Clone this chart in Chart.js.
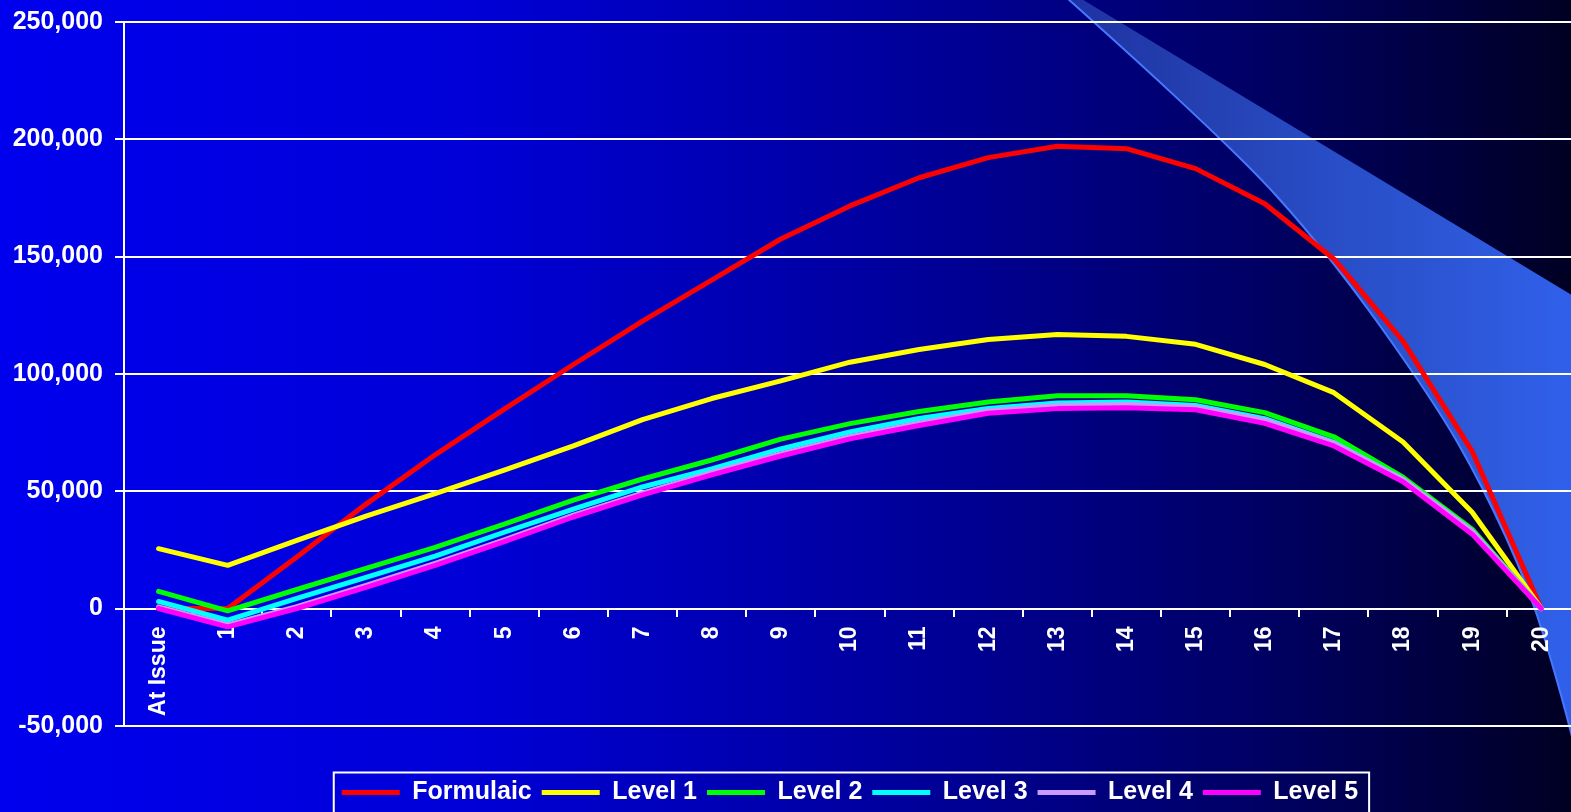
<!DOCTYPE html>
<html>
<head>
<meta charset="utf-8">
<script src="https://cdn.jsdelivr.net/npm/chart.js@4.4.1/dist/chart.umd.min.js"></script>
<style>
  html, body { margin: 0; padding: 0; overflow: hidden; background: #000; }
</style>
</head>
<body>
<canvas id="myChart" width="1580" height="812"></canvas>
<script>
// data
const labels = ['At Issue', '1', '2', '3', '4', '5', '6', '7', '8', '9', '10',
  '11', '12', '13', '14', '15', '16', '17', '18', '19', '20'];

const formulaic = [0, 0, 22000, 44500, 65500, 85000, 104000, 122500, 140000, 157500, 171600,
  183600, 192200, 197000, 196000, 187500, 172500, 149000, 114000, 67000, 0];
const level1 = [25500, 18400, 29000, 39400, 49000, 59000, 69300, 80500, 89500, 97000, 105000,
  110400, 114700, 116800, 116000, 112600, 104000, 92000, 71000, 41000, 0];
const level2 = [7300, -1000, 8100, 17100, 26100, 36000, 46200, 55200, 63300, 72200, 78800,
  84000, 88000, 90700, 90700, 89000, 83500, 73200, 56000, 33800, 0];
const level3 = [3000, -5000, 4300, 13300, 22300, 32500, 42400, 51800, 59500, 68000, 75300,
  81000, 85300, 87600, 88000, 86500, 80900, 70800, 55000, 33000, 0];
const level4 = [700, -7000, 800, 9800, 19200, 29300, 39800, 49200, 57900, 65900, 73200,
  79000, 84200, 86500, 87000, 85800, 80300, 70600, 55000, 33000, 0];
const level5 = [0, -7800, 0, 9000, 18400, 28500, 39000, 48400, 57000, 65000, 72300,
  78000, 83200, 85200, 85600, 84700, 78900, 69300, 54000, 31700, 0];

const seriesNames = ['Formulaic', 'Level 1', 'Level 2', 'Level 3', 'Level 4', 'Level 5'];
const seriesData = [formulaic, level1, level2, level3, level4, level5];
const seriesColors = ['#ff0000', '#ffff00', '#00ff00', '#00ffff', '#cc99ff', '#ff00ff'];

const FONT = '"Liberation Sans", Arial, sans-serif';

//Background gradient and the blue swoosh behind the grid
const backdrop = {
  id: 'backdrop',
  beforeDraw(chart) {
    const ctx = chart.ctx;
    ctx.save();
    const bg = ctx.createLinearGradient(0, 0, 1571, 0);
    bg.addColorStop(0, 'rgb(0,0,238)');
    bg.addColorStop(0.3, 'rgb(0,0,215)');
    bg.addColorStop(0.6, 'rgb(0,0,150)');
    bg.addColorStop(0.82, 'rgb(0,0,95)');
    bg.addColorStop(1, 'rgb(0,0,35)');
    ctx.fillStyle = bg;
    ctx.fillRect(0, 0, chart.width, chart.height);

    // left edge of the swoosh, top to bottom
    const edge = [[1067, -2], [1226, 140], [1328, 253], [1433, 400], [1482, 485],
      [1530, 590], [1560, 690], [1578, 760]];
    ctx.beginPath();
    ctx.moveTo(1080, -2);
    ctx.lineTo(1590, 306);
    ctx.lineTo(1590, 770);
    ctx.lineTo(edge[edge.length - 1][0], edge[edge.length - 1][1]);
    for (let i = edge.length - 2; i > 0; i--) {
      const mx = (edge[i][0] + edge[i - 1][0]) / 2;
      const my = (edge[i][1] + edge[i - 1][1]) / 2;
      ctx.quadraticCurveTo(edge[i][0], edge[i][1], mx, my);
    }
    ctx.lineTo(edge[0][0], edge[0][1]);
    ctx.closePath();
    const sw = ctx.createLinearGradient(1070, 0, 1571, 0);
    sw.addColorStop(0, 'rgba(60,100,200,0.5)');
    sw.addColorStop(0.5, 'rgba(50,95,225,0.8)');
    sw.addColorStop(1, 'rgba(48,96,235,1)');
    ctx.fillStyle = sw;
    ctx.fill();

    ctx.beginPath();
    ctx.moveTo(edge[0][0], edge[0][1]);
    for (let i = 1; i < edge.length - 1; i++) {
      const mx = (edge[i][0] + edge[i + 1][0]) / 2;
      const my = (edge[i][1] + edge[i + 1][1]) / 2;
      ctx.quadraticCurveTo(edge[i][0], edge[i][1], mx, my);
    }
    ctx.lineTo(edge[edge.length - 1][0], edge[edge.length - 1][1]);
    ctx.strokeStyle = 'rgb(70,120,255)';
    ctx.lineWidth = 2;
    ctx.stroke();
    ctx.restore();
  }
};

//White frame round the legend
const legendBox = {
  id: 'legendBox',
  afterDraw(chart) {
    const boxes = chart.legend.legendHitBoxes;
    if (!boxes || !boxes.length) return;
    const first = boxes[0];
    const last = boxes[boxes.length - 1];
    const ctx = chart.ctx;
    ctx.save();
    ctx.strokeStyle = '#ffffff';
    ctx.lineWidth = 2;
    const top = first.top + first.height / 2 - 20;
    ctx.strokeRect(first.left - 8, top, last.left + last.width - first.left + 19, 80);
    ctx.restore();
  }
};

const datasets = seriesNames.map((name, i) => ({
  label: name,
  data: seriesData[i],
  borderColor: seriesColors[i],
  backgroundColor: seriesColors[i],
  borderWidth: 5,
  pointRadius: 0,
  tension: 0,
  fill: false,
  borderJoinStyle: 'round',
  borderCapStyle: 'round',
  order: seriesNames.length - 1 - i
}));

//Render the chart
const ctx = document.getElementById('myChart').getContext('2d');
const myChart = new Chart(ctx, {
  type: 'line',
  data: { labels: labels, datasets: datasets },
  plugins: [backdrop, legendBox],
  options: {
    responsive: false,
    animation: false,
    layout: { padding: { top: 22, left: 0, right: 0, bottom: -3 } },
    plugins: {
      tooltip: { enabled: false },
      legend: {
        position: 'bottom',
        fullSize: false,
        title: { display: true, text: '', padding: { top: 43, bottom: 0 }, font: { size: 1 } },
        labels: {
          color: '#ffffff',
          font: { family: FONT, size: 25, weight: 'bold' },
          usePointStyle: true,
          pointStyle: 'line',
          pointStyleWidth: 58,
          padding: 10,
          sort: (a, b) => a.datasetIndex - b.datasetIndex
        }
      }
    },
    scales: {
      x: {
        position: { y: 0 },
        offset: true,
        grid: {
          display: true,
          drawOnChartArea: false,
          drawTicks: true,
          tickLength: 7,
          color: '#ffffff',
          lineWidth: 2,
          offset: true
        },
        border: { display: true, color: '#ffffff', width: 2 },
        ticks: {
          color: '#ffffff',
          font: { family: FONT, size: 23, weight: 'bold' },
          autoSkip: false,
          minRotation: 90,
          maxRotation: 90,
          padding: 11
        }
      },
      y: {
        min: -50000,
        max: 250000,
        afterFit: (scale) => {
          scale.width = 124;
          scale.paddingTop = 0;
          scale.paddingBottom = 0;
        },
        grid: { color: '#ffffff', lineWidth: 2, tickLength: 9 },
        border: { display: true, color: '#ffffff', width: 2 },
        ticks: {
          stepSize: 50000,
          color: '#ffffff',
          font: { family: FONT, size: 25, weight: 'bold' },
          padding: 12,
          callback: (v) => v.toLocaleString('en-US')
        }
      }
    }
  }
});
</script>
</body>
</html>
